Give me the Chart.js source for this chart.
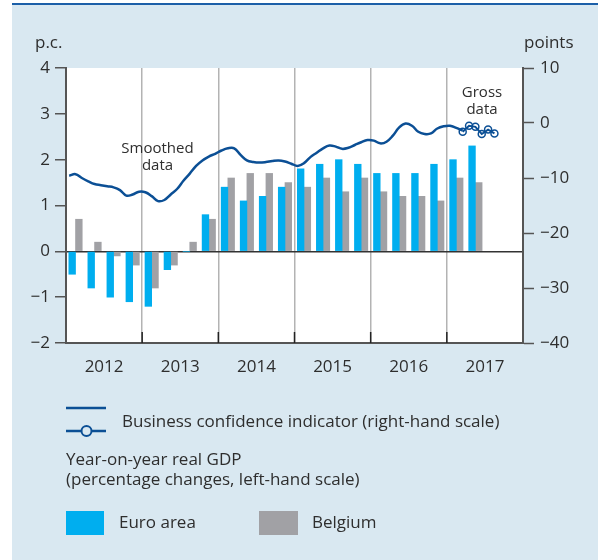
<!DOCTYPE html>
<html>
<head>
<meta charset="utf-8">
<script src="https://cdn.jsdelivr.net/npm/chart.js@4.4.0/dist/chart.umd.min.js"></script>
<style>
  html, body { margin: 0; padding: 0; background: #fff; }
  canvas { display: block; }
</style>
</head>
<body>
<canvas id="grafico" width="598" height="560"></canvas>
<script>
// x axis runs in months from Jan 2012 (0) to Dec 2017 (72)
var anos = ['2012', '2013', '2014', '2015', '2016', '2017'];

// year-on-year real GDP, quarterly, 2012 Q1 .. 2017 Q2 (p.c.)
var euroArea = [-0.5, -0.8, -1.0, -1.1,  -1.2, -0.4, 0.0, 0.8,  1.4, 1.1, 1.2, 1.4,
                1.8, 1.9, 2.0, 1.9,  1.7, 1.7, 1.7, 1.9,  2.0, 2.3];
var belgium  = [0.7, 0.2, -0.1, -0.3,  -0.8, -0.3, 0.2, 0.7,  1.6, 1.7, 1.7, 1.5,
                1.4, 1.6, 1.3, 1.6,  1.3, 1.2, 1.2, 1.1,  1.6, 1.5];

// business confidence indicator (points), monthly from Jan 2012
var confiancaSuavizada = [-9.6, -9.3, -10.0, -10.6, -11.1, -11.3, -11.5, -11.7, -12.2, -13.2, -13.0, -12.5,
                          -12.6, -13.3, -14.2, -14.0, -13.0, -12.0, -10.5, -9.2, -7.8, -6.8, -6.1, -5.6,
                          -5.0, -4.6, -4.6, -5.8, -6.8, -7.1, -7.2, -7.1, -6.9, -6.8, -7.0, -7.4,
                          -7.8, -7.3, -6.2, -5.4, -4.6, -4.1, -4.3, -4.7, -4.5, -4.0, -3.5, -3.1,
                          -3.2, -3.7, -3.4, -2.3, -0.8, -0.1, -0.5, -1.6, -2.0, -1.9, -1.0, -0.6,
                          -0.5, -0.9, -1.4];
var inicioBruto = 62;   // Mar 2017
var confiancaBruta = [-1.6, -0.5, -0.7, -2.0, -1.2, -1.9];

var ticksEsq = { min: -2, max: 4, passo: 1 };
var ticksDir = { min: -40, max: 10, passo: 10 };

var AZUL_ESCURO = '#0b4f95';
var AZUL = '#00aeef';
var CINZA = '#a1a1a5';
var FUNDO = '#d9e8f1';
var TEXTO = '#2e2e2e';
var EIXO = '#555555';

var FONTE = '"Open Sans", "Noto Sans", sans-serif';
Chart.defaults.font.family = FONTE;
Chart.defaults.font.size = 17;
Chart.defaults.color = TEXTO;

function menos(v) {
  return String(v).replace('-', '\u2212');
}

var barrasEuro = euroArea.map(function(v, i) { return { x: i * 3 + 1.5, y: v }; });
var barrasBel = belgium.map(function(v, i) { return { x: i * 3 + 1.5, y: v }; });
var linhaSuave = confiancaSuavizada.map(function(v, i) { return { x: i + 0.5, y: v }; });
var linhaBruta = confiancaBruta.map(function(v, i) { return { x: inicioBruto + i + 0.5, y: v }; });

var fundoPlugin = {
  id: 'fundo',
  beforeDraw: function(chart) {
    var ctx = chart.ctx, a = chart.chartArea;
    ctx.save();
    ctx.fillStyle = '#fff';
    ctx.fillRect(0, 0, chart.width, chart.height);
    ctx.fillStyle = FUNDO;
    ctx.fillRect(12, 4, chart.width - 12, chart.height - 4);
    ctx.fillStyle = '#1c5fa8';
    ctx.fillRect(12, 3, chart.width - 12, 2);
    ctx.fillStyle = '#fff';
    ctx.fillRect(a.left, a.top, a.right - a.left, a.bottom - a.top);
    ctx.restore();
  }
};

var textosPlugin = {
  id: 'textos',
  afterDraw: function(chart) {
    var ctx = chart.ctx, a = chart.chartArea, x = chart.scales.x;
    ctx.save();

    // short inner ticks at the year boundaries
    ctx.strokeStyle = '#222';
    ctx.lineWidth = 1.5;
    for (var m = 12; m < 72; m += 12) {
      var px = x.getPixelForValue(m);
      ctx.beginPath();
      ctx.moveTo(px, a.bottom);
      ctx.lineTo(px, a.bottom - 11);
      ctx.stroke();
    }

    ctx.fillStyle = TEXTO;
    ctx.textBaseline = 'alphabetic';
    ctx.font = '17px ' + FONTE;
    ctx.textAlign = 'left';
    ctx.fillText('p.c.', 35, 48);
    ctx.fillText('points', 524, 48);

    ctx.font = '15px ' + FONTE;
    ctx.textAlign = 'center';
    ctx.fillText('Smoothed', 157.5, 153);
    ctx.fillText('data', 157.5, 170);
    ctx.fillText('Gross', 482, 97);
    ctx.fillText('data', 482, 114);

    // legend
    ctx.strokeStyle = AZUL_ESCURO;
    ctx.lineWidth = 2.5;
    ctx.beginPath();
    ctx.moveTo(66, 408); ctx.lineTo(106, 408);
    ctx.moveTo(66, 431); ctx.lineTo(106, 431);
    ctx.stroke();
    ctx.fillStyle = FUNDO;
    ctx.lineWidth = 2;
    ctx.beginPath();
    ctx.arc(86.5, 431, 5, 0, Math.PI * 2);
    ctx.fill();
    ctx.stroke();

    ctx.fillStyle = TEXTO;
    ctx.font = '17px ' + FONTE;
    ctx.textAlign = 'left';
    ctx.fillText('Business confidence indicator (right-hand scale)', 122, 427);
    ctx.fillText('Year-on-year real GDP', 66, 465);
    ctx.fillText('(percentage changes, left-hand scale)', 66, 485);

    ctx.fillStyle = AZUL;
    ctx.fillRect(66, 511, 38, 24);
    ctx.fillStyle = CINZA;
    ctx.fillRect(259, 511, 39, 24);
    ctx.fillStyle = TEXTO;
    ctx.fillText('Euro area', 119, 528);
    ctx.fillText('Belgium', 312, 528);

    ctx.restore();
  }
};

var grafico = new Chart(document.getElementById('grafico').getContext('2d'), {
  type: 'bar',
  data: {
    datasets: [{
      type: 'line',
      label: 'Business confidence indicator (smoothed)',
      data: linhaSuave,
      yAxisID: 'y1',
      borderColor: AZUL_ESCURO,
      borderWidth: 2.5,
      pointRadius: 0,
      tension: 0.4,
      order: 0
    }, {
      type: 'line',
      label: 'Business confidence indicator (gross)',
      data: linhaBruta,
      yAxisID: 'y1',
      borderColor: AZUL_ESCURO,
      borderWidth: 2,
      pointRadius: 3.5,
      pointBorderWidth: 1.5,
      pointBorderColor: AZUL_ESCURO,
      pointBackgroundColor: 'rgba(255,255,255,0)',
      tension: 0,
      order: 0
    }, {
      label: 'Euro area',
      data: barrasEuro,
      yAxisID: 'y',
      backgroundColor: AZUL,
      barThickness: 6.7,
      order: 1
    }, {
      label: 'Belgium',
      data: barrasBel,
      yAxisID: 'y',
      backgroundColor: CINZA,
      barThickness: 6.7,
      order: 1
    }]
  },
  options: {
    responsive: false,
    animation: false,
    layout: { padding: { top: 68, left: 0, right: 0, bottom: 0 } },
    plugins: {
      legend: { display: false },
      tooltip: { enabled: false }
    },
    scales: {
      x: {
        type: 'linear',
        min: 0,
        max: 72,
        offset: false,
        afterFit: function(s) { s.height = 217; },
        afterBuildTicks: function(s) {
          var t = [];
          for (var v = 0; v <= 72; v += 6) t.push({ value: v });
          s.ticks = t;
        },
        ticks: {
          autoSkip: false,
          maxRotation: 0,
          padding: 14,
          color: TEXTO,
          callback: function(v) { return v % 12 === 6 ? anos[(v - 6) / 12] : ''; }
        },
        grid: {
          offset: false,
          drawTicks: false,
          lineWidth: 1.5,
          color: function(c) {
            var v = c.tick && c.tick.value;
            return (v % 12 === 0 && v > 0 && v < 72) ? '#b3b3b3' : 'rgba(0,0,0,0)';
          }
        },
        border: { display: true, color: EIXO, width: 2 }
      },
      y: {
        position: 'left',
        min: ticksEsq.min,
        max: ticksEsq.max,
        afterFit: function(s) { s.width = 66; },
        ticks: { stepSize: ticksEsq.passo, padding: 5, color: TEXTO, callback: menos },
        grid: {
          tickLength: 11,
          tickColor: EIXO,
          tickWidth: 1.5,
          lineWidth: 1.5,
          color: function(c) { return c.tick && c.tick.value === 0 ? '#333' : 'rgba(0,0,0,0)'; }
        },
        border: { display: true, color: EIXO, width: 2 }
      },
      y1: {
        position: 'right',
        min: ticksDir.min,
        max: ticksDir.max,
        afterFit: function(s) { s.width = 75; },
        ticks: { stepSize: ticksDir.passo, padding: 6, color: TEXTO, callback: menos },
        grid: {
          drawOnChartArea: false,
          tickLength: 11,
          tickColor: EIXO,
          tickWidth: 1.5
        },
        border: { display: true, color: EIXO, width: 2 }
      }
    }
  },
  plugins: [fundoPlugin, textosPlugin]
});
</script>
</body>
</html>
